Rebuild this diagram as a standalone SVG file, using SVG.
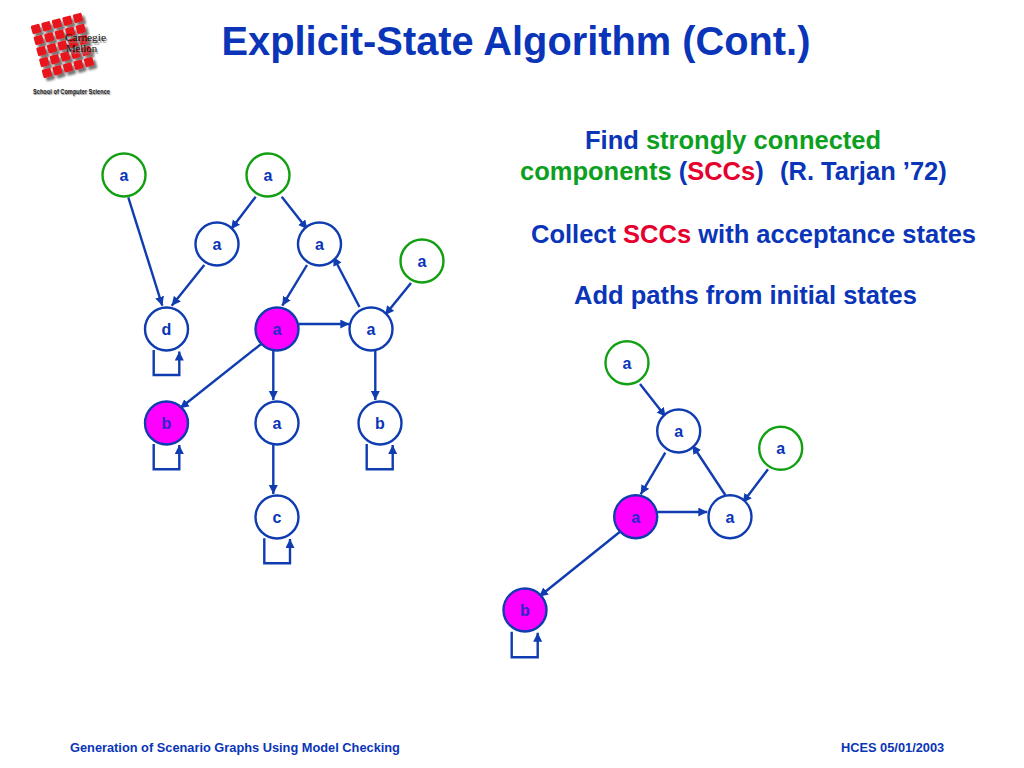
<svg xmlns="http://www.w3.org/2000/svg" xmlns:xlink="http://www.w3.org/1999/xlink" width="1024" height="768" viewBox="0 0 1024 768">
<style>
text{font-family:"Liberation Sans",Arial,sans-serif;font-weight:bold;fill:#0a35b8}
.n circle{fill:#fff;stroke:#0f3cb0;stroke-width:2.4}
.n.g circle{stroke:#12a012}
.n.m circle{fill:#ff00ff}
.n text{font-size:16px;text-anchor:middle}
.n.m text{fill:#2a28c8}
.e path{fill:none;stroke:#0f3cb0;stroke-width:2.4;marker-end:url(#ah)}
.h{font-size:25.5px}
.gt{fill:#0ca020}
.rt{fill:#e6002d}
.f{font-size:12.8px}
.sq{fill:#e8141e}
.lg{font-family:"Liberation Serif",serif;font-weight:normal;font-size:11px;fill:#111;text-shadow:1.5px 1.5px 1px #888}
.sc{font-size:6.5px;fill:#222;text-shadow:1px 1px 1px #888}
</style>
<defs>
<marker id="ah" markerUnits="userSpaceOnUse" markerWidth="10" markerHeight="10" refX="9" refY="4.5" orient="auto"><path d="M0 0L9 4.5L0 9Z" fill="#0f3cb0"/></marker>
<filter id="ds" x="-20%" y="-20%" width="140%" height="140%"><feDropShadow dx="3" dy="3" stdDeviation="1.2" flood-color="#777"/></filter>
<rect id="s" x="-4.5" y="-4.5" width="9" height="9" rx="1.5" class="sq"/>
</defs>
<rect width="1024" height="768" fill="#fff"/>

<g id="logo">
<g filter="url(#ds)">
<use xlink:href="#s" transform="translate(36,29) rotate(-15)"/><use xlink:href="#s" transform="translate(46.5,26.3) rotate(-15)"/><use xlink:href="#s" transform="translate(57,23.5) rotate(-15)"/><use xlink:href="#s" transform="translate(67.5,20.8) rotate(-15)"/><use xlink:href="#s" transform="translate(78,18) rotate(-15)"/>
<use xlink:href="#s" transform="translate(38.8,40) rotate(-15)"/><use xlink:href="#s" transform="translate(49.3,37.3) rotate(-15)"/><use xlink:href="#s" transform="translate(59.8,34.5) rotate(-15)"/><use xlink:href="#s" transform="translate(70.3,31.8) rotate(-15)"/><use xlink:href="#s" transform="translate(80.8,29) rotate(-15)"/>
<use xlink:href="#s" transform="translate(41.5,51) rotate(-15)"/><use xlink:href="#s" transform="translate(52,48.3) rotate(-15)"/><use xlink:href="#s" transform="translate(62.5,45.5) rotate(-15)"/><use xlink:href="#s" transform="translate(73,42.8) rotate(-15)"/><use xlink:href="#s" transform="translate(83.5,40) rotate(-15)"/>
<use xlink:href="#s" transform="translate(44.3,62) rotate(-15)"/><use xlink:href="#s" transform="translate(54.8,59.3) rotate(-15)"/><use xlink:href="#s" transform="translate(65.3,56.5) rotate(-15)"/><use xlink:href="#s" transform="translate(75.8,53.8) rotate(-15)"/><use xlink:href="#s" transform="translate(86.3,51) rotate(-15)"/>
<use xlink:href="#s" transform="translate(47,73) rotate(-15)"/><use xlink:href="#s" transform="translate(57.5,70.3) rotate(-15)"/><use xlink:href="#s" transform="translate(68,67.5) rotate(-15)"/><use xlink:href="#s" transform="translate(78.5,64.8) rotate(-15)"/><use xlink:href="#s" transform="translate(89,62) rotate(-15)"/>
</g>
<text class="lg" x="65" y="41" textLength="41" lengthAdjust="spacingAndGlyphs">Carnegie</text>
<text class="lg" x="66" y="52" textLength="31" lengthAdjust="spacingAndGlyphs">Mellon</text>
<text class="sc" x="33" y="94" textLength="77" lengthAdjust="spacingAndGlyphs">School of Computer Science</text>
</g>

<text id="title" x="516" y="55" font-size="39.8" text-anchor="middle">Explicit-State Algorithm (Cont.)</text>

<g id="connectors" class="e">
<path d="M128.3 197.3L162.3 305.7"/>
<path d="M255.7 196.7L231 229.3"/>
<path d="M281.7 196.7L307.3 229.3"/>
<path d="M204.3 265L171.7 305.7"/>
<path d="M307 265L282.3 305.7"/>
<path d="M298.3 324L349.3 324"/>
<path d="M359.5 307L333.3 256.7"/>
<path d="M411 283L385 315"/>
<path d="M263.3 342.3L180 408.3"/>
<path d="M273.3 350.5L273.3 400"/>
<path d="M273.3 444L273.3 494"/>
<path d="M375.3 350.5L375.3 400"/>
<path d="M153.7 350V375H179.3V351.5"/>
<path d="M153.7 444V469.3H179.3V445"/>
<path d="M366.7 444V469.3H392.7V445"/>
<path d="M264.3 538.3V563.3H290V539"/>
<path d="M640 384L665.7 416.7"/>
<path d="M665.3 452.7L640.7 494.3"/>
<path d="M657.3 512L707.3 512"/>
<path d="M725.3 495L692.3 445"/>
<path d="M768 469.3L742.7 502.7"/>
<path d="M620 531.7L539 596.7"/>
<path d="M511.7 631.7V657.3H537.7V632.7"/>
</g>

<g id="n1" class="n g"><circle cx="124" cy="175" r="21.5"/><text x="124" y="181">a</text></g>
<g id="n2" class="n g"><circle cx="268" cy="175" r="21.5"/><text x="268" y="181">a</text></g>
<g id="n3" class="n"><circle cx="217" cy="244" r="21.5"/><text x="217" y="250">a</text></g>
<g id="n4" class="n"><circle cx="319.5" cy="244" r="21.5"/><text x="319.5" y="250">a</text></g>
<g id="n5" class="n g"><circle cx="422" cy="261" r="21.5"/><text x="422" y="267">a</text></g>
<g id="n6" class="n"><circle cx="166.5" cy="329" r="21.5"/><text x="166.5" y="335">d</text></g>
<g id="n7" class="n m"><circle cx="277" cy="329" r="21.5"/><text x="277" y="335">a</text></g>
<g id="n8" class="n"><circle cx="371" cy="329" r="21.5"/><text x="371" y="335">a</text></g>
<g id="n9" class="n m"><circle cx="166.5" cy="423" r="21.5"/><text x="166.5" y="429">b</text></g>
<g id="n10" class="n"><circle cx="277" cy="423" r="21.5"/><text x="277" y="429">a</text></g>
<g id="n11" class="n"><circle cx="380" cy="423" r="21.5"/><text x="380" y="429">b</text></g>
<g id="n12" class="n"><circle cx="277" cy="517" r="21.5"/><text x="277" y="523">c</text></g>
<g id="n13" class="n g"><circle cx="627" cy="362.7" r="21.5"/><text x="627" y="369">a</text></g>
<g id="n14" class="n"><circle cx="678.7" cy="431" r="21.5"/><text x="678.7" y="437">a</text></g>
<g id="n15" class="n g"><circle cx="780.7" cy="448.3" r="21.5"/><text x="780.7" y="454">a</text></g>
<g id="n16" class="n m"><circle cx="635.7" cy="516.7" r="21.5"/><text x="635.7" y="523">a</text></g>
<g id="n17" class="n"><circle cx="730" cy="516.7" r="21.5"/><text x="730" y="523">a</text></g>
<g id="n18" class="n m"><circle cx="525" cy="610" r="21.5"/><text x="525" y="616">b</text></g>

<g id="notes" class="h">
<text x="585" y="149">Find <tspan class="gt">strongly connected</tspan></text>
<text x="520" y="180"><tspan class="gt">components</tspan> (<tspan class="rt">SCCs</tspan>)<tspan x="780">(R. Tarjan ’72)</tspan></text>
<text x="531" y="243">Collect <tspan class="rt">SCCs</tspan> with acceptance states</text>
<text x="574" y="304">Add paths from initial states</text>
</g>
<g id="footer" class="f">
<text x="70" y="752">Generation of Scenario Graphs Using Model Checking</text>
<text x="841" y="752">HCES 05/01/2003</text>
</g>
</svg>
